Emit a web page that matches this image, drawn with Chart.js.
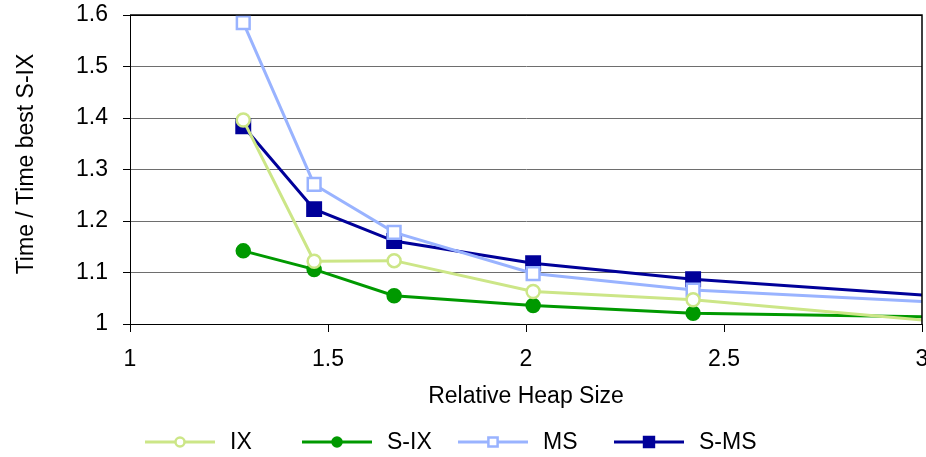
<!DOCTYPE html>
<html>
<head>
<meta charset="utf-8">
<script src="https://cdn.jsdelivr.net/npm/chart.js@4/dist/chart.umd.min.js"></script>
<style>
  html, body { margin: 0; padding: 0; background: #fff; overflow: hidden; width: 926px; height: 457px; }
  #wrap { position: absolute; left: 0; top: 0; width: 940px; height: 457px; }
</style>
</head>
<body>
<div id="wrap"><canvas id="chart" width="940" height="457"></canvas></div>
<script>
// heap sizes (x) and run time ratios for each collector
var heapSize = [1.286, 1.465, 1.667, 2.018, 2.422, 3.1];
var ix = [1.396, 1.122, 1.123, 1.063, 1.047, 1.001];
var sIx = [1.142, 1.106, 1.055, 1.036, 1.021, 1.013];
var ms = [1.585, 1.271, 1.178, 1.098, 1.066, 1.040];
var sMs = [1.384, 1.223, 1.161, 1.118, 1.087, 1.051];
var seriesNames = ['IX', 'S-IX', 'MS', 'S-MS'];
var xTicks = [1, 1.5, 2, 2.5, 3];
var yTicks = [1, 1.1, 1.2, 1.3, 1.4, 1.5, 1.6];

var FONT = "'Liberation Sans', Arial, sans-serif";
var FSIZE = 23;

function points(values) {
  var out = [];
  for (var i = 0; i < heapSize.length; i++) {
    out.push({ x: heapSize[i], y: values[i] });
  }
  return out;
}

function fmt(v) {
  return String(Math.round(v * 10) / 10);
}

var styles = [
  { color: '#cce687', style: 'circle', fill: '#ffffff', radius: 6.5, legendRadius: 4.5 },
  { color: '#009900', style: 'circle', fill: '#009900', radius: 6.5, legendRadius: 4.5 },
  { color: '#99b3ff', style: 'rect', fill: '#ffffff', radius: 9, legendRadius: 6.5 },
  { color: '#000099', style: 'rect', fill: '#000099', radius: 9.5, legendRadius: 7 }
];
var allValues = [ix, sIx, ms, sMs];

var datasets = allValues.map(function(vals, i) {
  var s = styles[i];
  return {
    label: seriesNames[i],
    data: points(vals),
    borderColor: s.color,
    backgroundColor: s.fill,
    borderWidth: 3,
    pointStyle: s.style,
    pointRadius: s.radius,
    pointBorderWidth: 2.5,
    pointBackgroundColor: s.fill,
    pointBorderColor: s.color,
    tension: 0,
    clip: 0
  };
});

function drawMarker(ctx, s, x, y, r) {
  ctx.beginPath();
  if (s.style === 'circle') {
    ctx.arc(x, y, r, 0, Math.PI * 2);
  } else {
    var h = r * Math.SQRT1_2;
    ctx.rect(x - h, y - h, 2 * h, 2 * h);
  }
  ctx.fillStyle = s.fill;
  ctx.fill();
  ctx.lineWidth = 2.5;
  ctx.strokeStyle = s.color;
  ctx.stroke();
}

// frame, y title and the legend (line + marker)
var extras = {
  id: 'extras',
  afterDraw: function(chart) {
    var ctx = chart.ctx;
    var a = chart.chartArea;
    ctx.save();
    ctx.strokeStyle = '#000';
    ctx.lineWidth = 1.5;
    ctx.beginPath();
    ctx.moveTo(a.left, a.top);
    ctx.lineTo(a.right, a.top);
    ctx.lineTo(a.right, a.bottom);
    ctx.stroke();

    ctx.fillStyle = '#000';
    ctx.font = FSIZE + 'px ' + FONT;
    ctx.textAlign = 'center';
    ctx.textBaseline = 'middle';
    ctx.translate(27, 164);
    ctx.rotate(-Math.PI / 2);
    ctx.fillText('Time / Time best S-IX', 0, 0);
    ctx.restore();

    var starts = [145, 302, 458, 614];
    var ly = 442;
    ctx.save();
    for (var i = 0; i < seriesNames.length; i++) {
      var s = styles[i];
      var x0 = starts[i];
      ctx.strokeStyle = s.color;
      ctx.lineWidth = 3;
      ctx.beginPath();
      ctx.moveTo(x0, ly);
      ctx.lineTo(x0 + 70, ly);
      ctx.stroke();
      drawMarker(ctx, s, x0 + 35, ly, s.legendRadius);
      ctx.fillStyle = '#000';
      ctx.font = FSIZE + 'px ' + FONT;
      ctx.textAlign = 'left';
      ctx.textBaseline = 'middle';
      ctx.fillText(seriesNames[i], x0 + 85, ly + 1);
    }
    ctx.restore();
  }
};

var ctx = document.getElementById('chart').getContext('2d');
var chart = new Chart(ctx, {
  type: 'line',
  data: { datasets: datasets },
  options: {
    responsive: false,
    animation: false,
    devicePixelRatio: 1,
    layout: { padding: { top: 15, right: 18, left: 0, bottom: 0 } },
    plugins: {
      legend: { display: false },
      tooltip: { enabled: false }
    },
    scales: {
      x: {
        type: 'linear',
        min: 1,
        max: 3,
        afterBuildTicks: function(scale) {
          scale.ticks = xTicks.map(function(v) { return { value: v }; });
        },
        afterFit: function(scale) {
          scale.height = 133;
          scale.paddingLeft = 0;
          scale.paddingRight = 0;
        },
        grid: { drawOnChartArea: false, drawTicks: true, tickLength: 8, color: '#000' },
        border: { color: '#000', width: 1 },
        ticks: {
          color: '#000',
          padding: 14,
          maxRotation: 0,
          font: { family: FONT, size: FSIZE },
          callback: function(v) { return fmt(v); }
        },
        title: {
          display: true,
          text: 'Relative Heap Size',
          color: '#000',
          font: { family: FONT, size: FSIZE },
          padding: { top: 0, bottom: 47 }
        }
      },
      y: {
        min: 1,
        max: 1.6,
        afterBuildTicks: function(scale) {
          scale.ticks = yTicks.map(function(v) { return { value: v }; });
        },
        afterFit: function(scale) {
          scale.width = 130;
          scale.paddingTop = 0;
          scale.paddingBottom = 0;
        },
        grid: {
          drawTicks: true,
          tickLength: 7,
          tickColor: '#000',
          color: function(c) {
            return c.tick && Math.abs(c.tick.value - 1.6) < 1e-6 ? '#000' : '#6e6e6e';
          }
        },
        border: { color: '#000', width: 1 },
        ticks: {
          color: '#000',
          padding: 15,
          font: { family: FONT, size: FSIZE },
          callback: function(v) { return fmt(v); }
        }
      }
    }
  },
  plugins: [extras]
});
</script>
</body>
</html>
